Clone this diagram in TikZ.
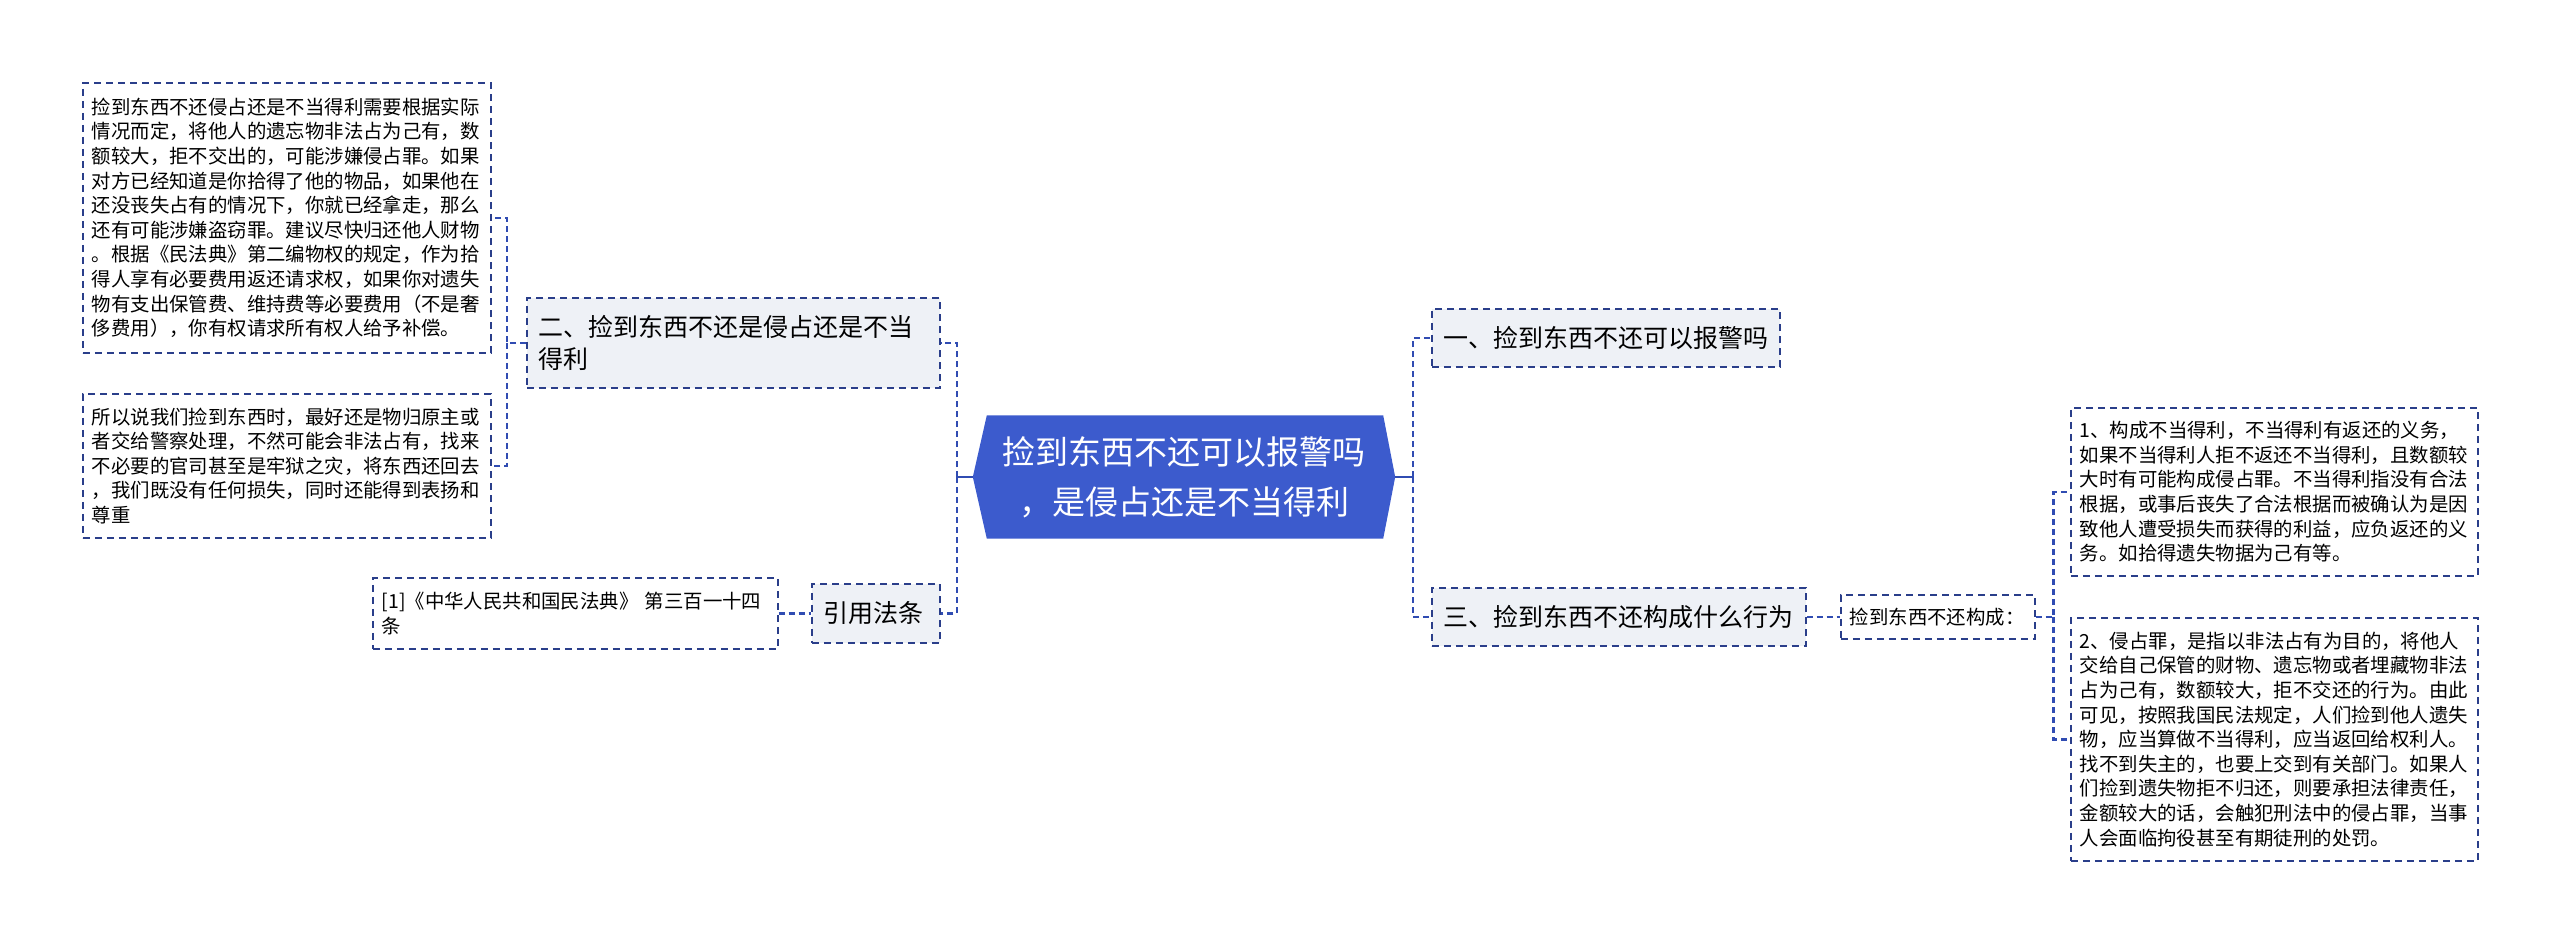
\documentclass[tikz,border=0pt]{standalone}
\usepackage{fontspec}
\setmainfont{Noto Sans CJK SC}
\definecolor{lineblue}{RGB}{42,62,138}
\definecolor{linkblue}{RGB}{48,76,178}
\definecolor{topicfill}{RGB}{238,241,246}
\definecolor{rootfill}{RGB}{60,91,205}

\begin{document}
\begin{tikzpicture}[x=1pt, y=-1pt,
    box/.style   = {draw=lineblue, line width=1.6pt,
      dash pattern=on 7pt off 5pt, anchor=north west, align=left},
    topic/.style = {box, fill=topicfill, inner xsep=12pt,
      font=\fontsize{25pt}{32pt}\selectfont},
    leaf/.style  = {box, fill=white, inner xsep=9pt,
      font=\fontsize{19.4pt}{24.6pt}\selectfont},
    link/.style  = {draw=linkblue, line width=2.6pt,
      dash pattern=on 6pt off 4pt},
  ]
  \useasboundingbox (0,0) rectangle (2560,945);

  \node[minimum width=422pt, minimum height=123pt, inner sep=0pt,
    text=white, align=center, font=\fontsize{33pt}{50pt}\selectfont]
    (Root) at (1184,477) {};
  \fill[rootfill] ([xshift=14pt]Root.north west) -- ([xshift=-12pt]Root.north east)
    -- (Root.east) -- ([xshift=-12pt]Root.south east)
    -- ([xshift=14pt]Root.south west) -- (Root.west) -- cycle;
  \node[text=white, align=center, font=\fontsize{33pt}{50pt}\selectfont]
    at (Root.center) {捡到东西不还可以报警吗\\，是侵占还是不当得利};

  \node[topic, text width=389pt, minimum height=90pt] (Theft) at (526,297)
    {二、捡到东西不还是侵占还是不当\\得利};
  \node[topic, text width=104pt, minimum height=59pt, inner xsep=12pt] (Cite) at (811,583)
    {引用法条};
  \node[leaf, text width=387pt, minimum height=71pt] (Law) at (372,577)
    {[1]《中华人民共和国民法典》 第三百一十四\\条};
  \node[leaf, text width=390pt, minimum height=270pt] (Detail) at (82,82)
    {捡到东西不还侵占还是不当得利需要根据实际\\
     情况而定，将他人的遗忘物非法占为己有，数\\
     额较大，拒不交出的，可能涉嫌侵占罪。如果\\
     对方已经知道是你拾得了他的物品，如果他在\\
     还没丧失占有的情况下，你就已经拿走，那么\\
     还有可能涉嫌盗窃罪。建议尽快归还他人财物\\
     。根据《民法典》第二编物权的规定，作为拾\\
     得人享有必要费用返还请求权，如果你对遗失\\
     物有支出保管费、维持费等必要费用（不是奢\\
     侈费用），你有权请求所有权人给予补偿。};
  \node[leaf, text width=390pt, minimum height=144pt] (Advice) at (82,393)
    {所以说我们捡到东西时，最好还是物归原主或\\
     者交给警察处理，不然可能会非法占有，找来\\
     不必要的官司甚至是牢狱之灾，将东西还回去\\
     ，我们既没有任何损失，同时还能得到表扬和\\
     尊重};

  \node[topic, text width=324pt, minimum height=58pt] (Police) at (1431,308)
    {一、捡到东西不还可以报警吗};
  \node[topic, text width=350pt, minimum height=58pt] (Conduct) at (1431,587)
    {三、捡到东西不还构成什么行为};
  \node[leaf, text width=176pt, minimum height=44pt] (Constitute) at (1840,594)
    {捡到东西不还构成：};
  \node[leaf, text width=389pt, minimum height=168pt] (Unjust) at (2070,407)
    {1、构成不当得利，不当得利有返还的义务，\\
     如果不当得利人拒不返还不当得利，且数额较\\
     大时有可能构成侵占罪。不当得利指没有合法\\
     根据，或事后丧失了合法根据而被确认为是因\\
     致他人遭受损失而获得的利益，应负返还的义\\
     务。如拾得遗失物据为己有等。};
  \node[leaf, text width=389pt, minimum height=243pt] (Embezzle) at (2070,617)
    {2、侵占罪，是指以非法占有为目的，将他人\\
     交给自己保管的财物、遗忘物或者埋藏物非法\\
     占为己有，数额较大，拒不交还的行为。由此\\
     可见，按照我国民法规定，人们捡到他人遗失\\
     物，应当算做不当得利，应当返回给权利人。\\
     找不到失主的，也要上交到有关部门。如果人\\
     们捡到遗失物拒不归还，则要承担法律责任，\\
     金额较大的话，会触犯刑法中的侵占罪，当事\\
     人会面临拘役甚至有期徒刑的处罚。};

  \coordinate (LeftFork) at (957,477);
  \coordinate (RightFork) at (1413,477);
  \draw[linkblue, line width=2.6pt] (Root.west) -- (LeftFork);
  \draw[linkblue, line width=2.6pt] (Root.east) -- (RightFork);
  \path[link] (LeftFork) |- (Theft.east);
  \path[link] (LeftFork) |- (Cite.east);
  \path[link] (RightFork) |- (Police.west);
  \path[link] (RightFork) |- (Conduct.west);
  \path[link] (Theft.west) -- ++(-19,0) coordinate (TheftFork) |- (Detail.east);
  \path[link] (TheftFork) |- (Advice.east);
  \path[link] (Law.east) -- (Cite.west);
  \path[link] (Conduct.east) -- (Constitute.west);
  \path[link] (Constitute.east) -- ++(18,0) coordinate (DefFork) |- (Unjust.west);
  \path[link] (DefFork) |- (Embezzle.west);
\end{tikzpicture}
\end{document}
